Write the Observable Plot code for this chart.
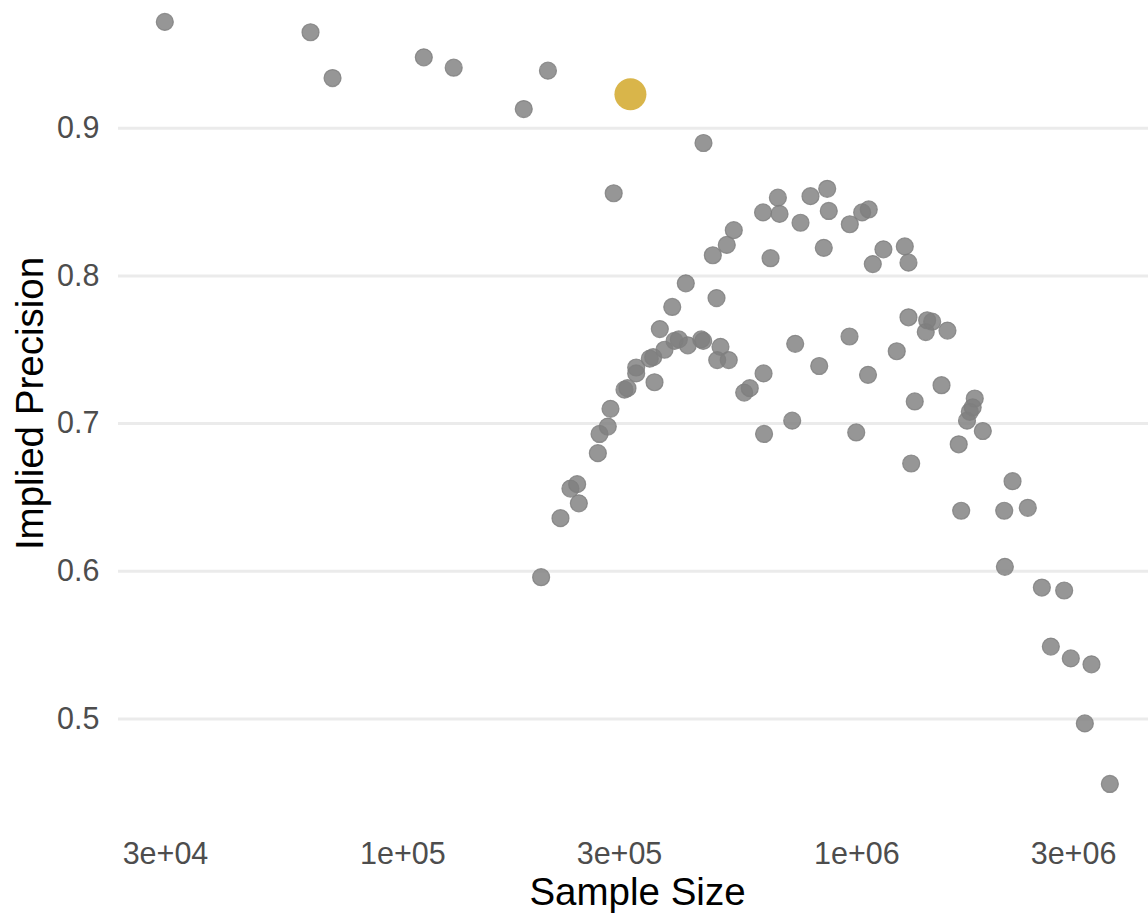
<!DOCTYPE html>
<html>
<head>
<meta charset="utf-8">
<script src="https://cdn.jsdelivr.net/npm/d3@7"></script>
<script src="https://cdn.jsdelivr.net/npm/@observablehq/plot@0.6"></script>
<style>
  html, body { margin: 0; padding: 0; background: #ffffff; }
  #chart svg { display: block; }
</style>
</head>
<body>
<div id="chart"></div>
<script>
const sampleSize = [29900, 62600, 70000, 111200, 129400, 184600, 208700, 291300, 459300,
  201600, 222400, 233900, 242000, 244100, 268800, 271100, 282700, 286600, 307700, 312400,
  326500, 326500, 349800, 355900, 358300, 368100, 376900, 392000, 396500, 405300,
  419900, 424200, 454100, 458700, 481600, 490700, 492400, 500700, 516900, 522100,
  535600, 564600, 580800, 621300, 622900, 624500, 645400, 669800, 675500, 720300,
  731300, 751300, 790300, 826000, 845400, 860200, 867100, 963200, 964700, 996600,
  1027000, 1058000, 1062000, 1084000, 1144000, 1224000, 1275000, 1299000, 1299000, 1317000,
  1341000, 1418000, 1428000, 1465000, 1536000, 1583000, 1676000, 1697000, 1748000, 1773000,
  1799000, 1818000, 1894000, 2111000, 2118000, 2202000, 2379000, 2555000, 2674000, 2861000,
  2959000, 3177000, 3286000, 3607000];

const precision = [0.972, 0.965, 0.934, 0.948, 0.941, 0.913, 0.939, 0.856, 0.890,
  0.596, 0.636, 0.656, 0.659, 0.646, 0.680, 0.693, 0.698, 0.710, 0.723, 0.724,
  0.738, 0.734, 0.744, 0.745, 0.728, 0.764, 0.750, 0.779, 0.756, 0.757,
  0.795, 0.753, 0.757, 0.756, 0.814, 0.785, 0.743, 0.752, 0.821, 0.743,
  0.831, 0.721, 0.724, 0.843, 0.734, 0.693, 0.812, 0.853, 0.842, 0.702,
  0.754, 0.836, 0.854, 0.739, 0.819, 0.859, 0.844, 0.759, 0.835, 0.694,
  0.843, 0.733, 0.845, 0.808, 0.818, 0.749, 0.820, 0.809, 0.772, 0.673,
  0.715, 0.762, 0.770, 0.769, 0.726, 0.763, 0.686, 0.641, 0.702, 0.708,
  0.711, 0.717, 0.695, 0.641, 0.603, 0.661, 0.643, 0.589, 0.549, 0.587,
  0.541, 0.497, 0.537, 0.456];

const highlightSize = [317100];
const highlightPrecision = [0.923];

const xTicks = [3e4, 1e5, 3e5, 1e6, 3e6];
const xTickLabels = ["3e+04", "1e+05", "3e+05", "1e+06", "3e+06"];
const yTicks = [0.5, 0.6, 0.7, 0.8, 0.9];
const yTickLabels = ["0.5", "0.6", "0.7", "0.8", "0.9"];

const xTitle = "Sample Size";
const yTitle = "Implied Precision";

const points = sampleSize.map((s, i) => ({size: s, precision: precision[i]}));
const highlight = highlightSize.map((s, i) => ({size: s, precision: highlightPrecision[i]}));

const FONT = "'Liberation Sans', Arial, Helvetica, sans-serif";

const chart = Plot.plot({
  width: 1148,
  height: 914,
  marginLeft: 118,
  marginRight: 0,
  marginTop: 0,
  marginBottom: 92,
  style: {fontFamily: FONT, background: "#ffffff", overflow: "visible"},
  x: {type: "log", domain: [23640, 4.388e6]},
  y: {domain: [0.4299, 0.9865]},
  marks: [
    Plot.gridY(yTicks, {stroke: "#EBEBEB", strokeOpacity: 1, strokeWidth: 3}),
    Plot.axisX(xTicks, {
      tickSize: 0, tickPadding: 20, fontSize: 30.5, fill: "#4D4D4D", label: null,
      tickFormat: d => xTickLabels[xTicks.indexOf(d)]
    }),
    Plot.axisY(yTicks, {
      tickSize: 0, tickPadding: 19, fontSize: 30.5, fill: "#4D4D4D", label: null,
      tickFormat: d => yTickLabels[yTicks.indexOf(d)]
    }),
    Plot.dot(points, {
      x: "size", y: "precision", r: 8.5,
      fill: "#7F7F7F", fillOpacity: 0.82,
      stroke: "#7F7F7F", strokeOpacity: 0.82, strokeWidth: 1.2
    }),
    Plot.dot(highlight, {
      x: "size", y: "precision", r: 16,
      fill: "#D9B54A", fillOpacity: 1, stroke: "none"
    }),
    Plot.text([xTitle], {
      text: d => d, frameAnchor: "bottom", textAnchor: "middle", lineAnchor: "middle",
      dx: 4, dy: 70, fontSize: 38.5, fill: "#000000"
    }),
    Plot.text([yTitle], {
      text: d => d, frameAnchor: "left", textAnchor: "middle", lineAnchor: "middle",
      rotate: -90, dx: -88, dy: -8, fontSize: 38.5, fill: "#000000"
    })
  ]
});

document.getElementById("chart").appendChild(chart);
</script>
</body>
</html>
